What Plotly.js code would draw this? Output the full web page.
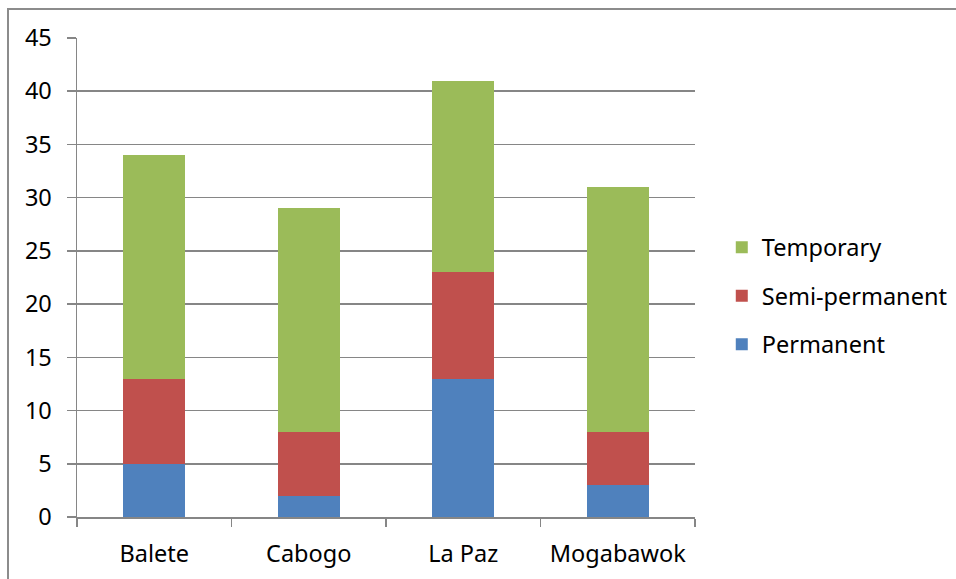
<!DOCTYPE html>
<html>
<head>
<meta charset="utf-8">
<script src="https://cdn.plot.ly/plotly-3.0.1.min.js"></script>
<style>
html,body{margin:0;padding:0;background:#fff;}
#wrap{position:relative;width:956px;height:579px;}
#chart{position:absolute;left:0;top:0;width:956px;height:579px;}
#frame{position:absolute;left:7px;top:8px;width:960px;height:590px;border-left:2px solid #8c8c8c;border-top:2px solid #8c8c8c;pointer-events:none;}
</style>
</head>
<body>
<div id="wrap"><div id="chart"></div><div id="frame"></div></div>
<script>
var categories = ["Balete", "Cabogo", "La Paz", "Mogabawok"];
var permanent = [5, 2, 13, 3];
var semiPermanent = [8, 6, 10, 5];
var temporary = [21, 21, 18, 23];
var yTicks = [0, 5, 10, 15, 20, 25, 30, 35, 40, 45];

var font = {family: "Noto Sans, Open Sans, sans-serif", size: 23.5, color: "#000"};
var grid = "#868686";

var traces = [
  {name: "Permanent", x: categories, y: permanent, type: "bar", marker: {color: "#4F81BD"}, legendgroup: "p", legendrank: 3},
  {name: "Semi-permanent", x: categories, y: semiPermanent, type: "bar", marker: {color: "#C0504D"}, legendgroup: "s", legendrank: 2},
  {name: "Temporary", x: categories, y: temporary, type: "bar", marker: {color: "#9BBB59"}, legendgroup: "t", legendrank: 1}
];

var layout = {
  width: 956, height: 579,
  margin: {l: 77, r: 261, t: 38, b: 62, pad: 0, autoexpand: false},
  paper_bgcolor: "#fff", plot_bgcolor: "#fff",
  barmode: "stack", bargap: 0.6,
  font: font,
  showlegend: true,
  legend: {xref: "container", yref: "container", x: 0.755, y: 0.489, xanchor: "left", yanchor: "middle",
           traceorder: "grouped", tracegroupgap: 15, font: font, bgcolor: "rgba(0,0,0,0)", itemwidth: 30},
  xaxis: {
    type: "category", tickson: "boundaries", ticks: "outside", ticklen: 8, tickwidth: 1.5, tickcolor: grid,
    showline: true, linecolor: grid, linewidth: 1.5, showgrid: false, tickfont: font, ticklabelstandoff: 15,
    fixedrange: true
  },
  yaxis: {
    range: [0, 45], tickvals: yTicks, ticks: "outside", ticklen: 9, tickwidth: 1.5, tickcolor: grid,
    showline: true, linecolor: grid, linewidth: 1.5, showgrid: true, gridcolor: grid, gridwidth: 1.5,
    zeroline: false, tickfont: font, ticklabelstandoff: 10, fixedrange: true
  }
};

Plotly.newPlot("chart", traces, layout, {staticPlot: true});
</script>
</body>
</html>
